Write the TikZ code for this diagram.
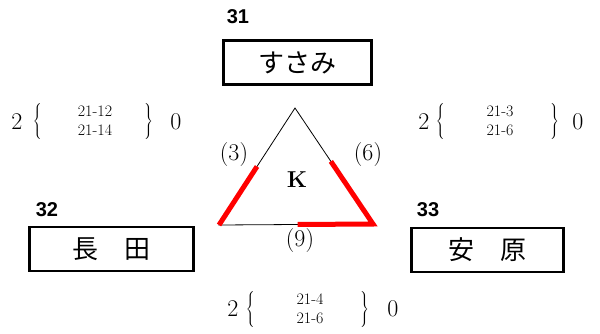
\documentclass[tikz,border=0pt]{standalone}
\usepackage{fontspec}
\usetikzlibrary{calc}
\newfontfamily\jpfont{Noto Sans CJK JP}
\newfontfamily\seedfont{Liberation Sans}
\newcommand{\lbr}{$\left\{\vrule height 15pt depth 15pt width 0pt\right.$}
\newcommand{\rbr}{$\left.\vrule height 15pt depth 15pt width 0pt\right\}$}
\tikzset{
  team/.style={draw, line width=2.6pt, minimum height=44pt, inner sep=0pt,
               font=\jpfont\fontsize{26}{26}\selectfont},
  seed/.style={font=\seedfont\bfseries\fontsize{20}{20}\selectfont},
  games/.style={font=\fontsize{16}{19}\selectfont, align=center},
  brace/.style={inner sep=0pt},
  pts/.style={font=\fontsize{24}{24}\selectfont},
  setcount/.style={font=\fontsize{24}{24}\selectfont},
  won/.style={red, line width=5pt},
}

\begin{document}
\begin{tikzpicture}[x=1pt, y=-1pt]
    \useasboundingbox (0,0) rectangle (600,333);
    % teams
    \node[seed] (n31) at (238, 17) {31};
    \node[team, minimum width=148pt] (t31) at (297.5, 62.5) {すさみ};
    \node[seed] (n32) at (47, 210) {32};
    \node[team, minimum width=164pt] (t32) at (111.5, 249) {長　田};
    \node[seed] (n33) at (428, 210) {33};
    \node[team, minimum width=152pt] (t33) at (487.5, 250) {安　原};
    % triangle
    \coordinate (top) at (295, 108);
    \coordinate (bl) at (219, 225);
    \coordinate (br) at (373, 224);
    \draw[line width=0.8pt] (top) -- (bl) -- (br) -- cycle;
    \draw[won] (bl) -- ($(bl)!0.5!(top)$);
    \draw[won, line join=miter] ($(br)!0.54!(top)$) -- (br) -- ($(br)!0.49!(bl)$);
    \node[pts] (p3) at (234, 155) {(3)};
    \node[pts] (p6) at (368, 155) {(6)};
    \node[pts] (p9) at (300, 241) {(9)};
    \node[font=\bfseries\fontsize{23}{23}\selectfont] (k) at (297, 180) {K};
    % 31 - 32
    \node[setcount] (a2) at (17, 122) {2};
    \node[brace] (al) at (38, 121) {\lbr};
    \node[games] (ag) at (95, 121) {21-12\\21-14};
    \node[brace] (ar) at (148, 121) {\rbr};
    \node[setcount] (a0) at (176, 122) {0};
    % 31 - 33
    \node[setcount] (b2) at (424, 122) {2};
    \node[brace] (bl2) at (441, 121) {\lbr};
    \node[games] (bg) at (500, 121) {21-3\\21-6};
    \node[brace] (br2) at (554, 121) {\rbr};
    \node[setcount] (b0) at (578, 122) {0};
    % 32 - 33
    \node[setcount] (c2) at (233, 309) {2};
    \node[brace] (cl) at (251, 309) {\lbr};
    \node[games] (cg) at (310, 309) {21-4\\21-6};
    \node[brace] (cr) at (364, 309) {\rbr};
    \node[setcount] (c0) at (393, 309) {0};
\end{tikzpicture}
\end{document}
